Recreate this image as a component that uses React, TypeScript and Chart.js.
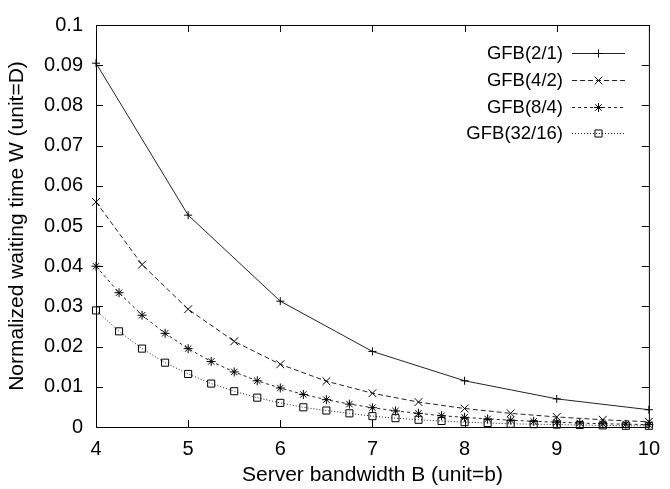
import React, { useEffect, useRef } from "react";
import { Chart, registerables } from "chart.js";

Chart.register(...registerables);

const seriesLabels = ["GFB(2/1)", "GFB(4/2)", "GFB(8/4)", "GFB(32/16)"];

const x21 = [4, 5, 6, 7, 8, 9, 10];
const y21 = [0.0905, 0.0527, 0.0313, 0.0188, 0.0115, 0.007, 0.0043];

const x42 = [4, 4.5, 5, 5.5, 6, 6.5, 7, 7.5, 8, 8.5, 9, 9.5, 10];
const y42 = [0.056, 0.0404, 0.0293, 0.0213, 0.0156, 0.0114, 0.0084, 0.0062, 0.0046, 0.0034, 0.0025, 0.0018, 0.0013];

const x84 = [4, 4.25, 4.5, 4.75, 5, 5.25, 5.5, 5.75, 6, 6.25, 6.5, 6.75, 7, 7.25, 7.5, 7.75, 8, 8.25, 8.5, 8.75, 9, 9.25, 9.5, 9.75, 10];
const y84 = [0.04, 0.0334, 0.0278, 0.0233, 0.0195, 0.0163, 0.0137, 0.0115, 0.0097, 0.0081, 0.0068, 0.0057, 0.0048, 0.004, 0.0034, 0.0028, 0.0024, 0.002, 0.0017, 0.0014, 0.0012, 0.001, 0.0008, 0.0007, 0.0006];

const x3216 = [4, 4.25, 4.5, 4.75, 5, 5.25, 5.5, 5.75, 6, 6.25, 6.5, 6.75, 7, 7.25, 7.5, 7.75, 8, 8.25, 8.5, 8.75, 9, 9.25, 9.5, 9.75, 10];
const y3216 = [0.029, 0.0238, 0.0195, 0.016, 0.0132, 0.0108, 0.0089, 0.0073, 0.006, 0.0049, 0.0041, 0.0034, 0.0027, 0.0022, 0.0018, 0.0015, 0.0012, 0.001, 0.0008, 0.0007, 0.0006, 0.0005, 0.0004, 0.0003, 0.0003];

const xTicks = [4, 5, 6, 7, 8, 9, 10];
const yTicks = [0, 0.01, 0.02, 0.03, 0.04, 0.05, 0.06, 0.07, 0.08, 0.09, 0.1];

const FONT = "'Liberation Sans', Arial, Helvetica, sans-serif";

const zip = (xs: number[], ys: number[]) => xs.map((x, i) => ({ x, y: ys[i] }));

function drawMarker(ctx: CanvasRenderingContext2D, style: string, r: number, x: number, y: number) {
  ctx.beginPath();
  if (style === "cross" || style === "star") {
    ctx.moveTo(x - r, y);
    ctx.lineTo(x + r, y);
    ctx.moveTo(x, y - r);
    ctx.lineTo(x, y + r);
  }
  if (style === "crossRot" || style === "star") {
    const o = r * Math.SQRT1_2;
    ctx.moveTo(x - o, y - o);
    ctx.lineTo(x + o, y + o);
    ctx.moveTo(x - o, y + o);
    ctx.lineTo(x + o, y - o);
  }
  if (style === "rect") {
    const s = r * Math.SQRT1_2;
    ctx.rect(x - s, y - s, 2 * s, 2 * s);
  }
  ctx.stroke();
}

const framePlugin = {
  id: "gnuFrame",
  afterDatasetsDraw(chart: any) {
    const { ctx, chartArea: a, scales } = chart;
    ctx.save();
    ctx.strokeStyle = "#000";
    ctx.lineWidth = 1;
    ctx.setLineDash([]);
    ctx.beginPath();
    ctx.rect(a.left + 0.5, a.top + 0.5, a.right - a.left, a.bottom - a.top);
    ctx.stroke();
    const t = 7;
    ctx.beginPath();
    for (const v of xTicks) {
      const px = Math.round(scales.x.getPixelForValue(v)) + 0.5;
      ctx.moveTo(px, a.bottom);
      ctx.lineTo(px, a.bottom - t);
      ctx.moveTo(px, a.top);
      ctx.lineTo(px, a.top + t);
    }
    for (const v of yTicks) {
      const py = Math.round(scales.y.getPixelForValue(v)) + 0.5;
      ctx.moveTo(a.left, py);
      ctx.lineTo(a.left + t, py);
      ctx.moveTo(a.right, py);
      ctx.lineTo(a.right - t, py);
    }
    ctx.stroke();

    // legend (gnuplot style: right-aligned text, sample line on the right)
    const textRight = 563;
    const lineL = 572;
    const lineR = 625;
    const rowY = [53, 80, 107, 133];
    ctx.font = "18.5px " + FONT;
    ctx.textAlign = "right";
    ctx.textBaseline = "middle";
    chart.data.datasets.forEach((ds: any, i: number) => {
      const y = rowY[i];
      ctx.fillStyle = "#000";
      ctx.fillText(ds.label, textRight, y + 1);
      ctx.strokeStyle = ds.borderColor;
      ctx.lineWidth = ds.borderWidth;
      ctx.setLineDash(ds.borderDash || []);
      ctx.beginPath();
      ctx.moveTo(lineL, y + 0.5);
      ctx.lineTo(lineR, y + 0.5);
      ctx.stroke();
      ctx.setLineDash([]);
      ctx.strokeStyle = ds.pointBorderColor;
      ctx.lineWidth = 1;
      drawMarker(ctx, ds.pointStyle, ds.pointRadius, (lineL + lineR) / 2, y + 0.5);
    });
    ctx.restore();
  },
};

export default function App() {
  const ref = useRef<HTMLCanvasElement | null>(null);
  useEffect(() => {
    document.body.style.margin = "0";
    document.body.style.background = "#fff";
    const canvas = ref.current!;
    const styles = [
      { dash: [], ps: "cross", r: 4 },
      { dash: [5, 3], ps: "crossRot", r: 5.5 },
      { dash: [3, 3], ps: "star", r: 4.5 },
      { dash: [1, 2], ps: "rect", r: 5 },
    ];
    const sets = [zip(x21, y21), zip(x42, y42), zip(x84, y84), zip(x3216, y3216)];
    const chart = new Chart(canvas, {
      type: "scatter",
      data: {
        datasets: sets.map((d, i) => ({
          label: seriesLabels[i],
          data: d,
          showLine: true,
          borderColor: "#222",
          borderWidth: 1,
          borderDash: styles[i].dash,
          pointStyle: styles[i].ps,
          pointRadius: styles[i].r,
          pointBorderColor: "#000",
          pointBackgroundColor: "rgba(0,0,0,0)",
          pointBorderWidth: 1,
          clip: false,
        })) as any,
      },
      options: {
        animation: false,
        responsive: false,
        devicePixelRatio: 1,
        layout: { padding: { top: 15, right: 13, left: 0, bottom: 0 } },
        plugins: { legend: { display: false }, tooltip: { enabled: false } },
        scales: {
          x: {
            type: "linear",
            min: 4,
            max: 10,
            afterFit: (s: any) => {
              s.height = 62;
            },
            afterBuildTicks: (s: any) => {
              s.ticks = xTicks.map((v) => ({ value: v }));
            },
            grid: { display: false, drawTicks: false },
            border: { display: false },
            ticks: {
              color: "#000",
              font: { family: FONT, size: 20 },
              padding: 10,
              maxRotation: 0,
              callback: (v: any) => String(v),
            },
            title: {
              display: true,
              text: "Server bandwidth B (unit=b)",
              color: "#000",
              font: { family: FONT, size: 21 },
              padding: { top: 0, bottom: 1 },
            },
          },
          y: {
            type: "linear",
            min: 0,
            max: 0.1,
            afterFit: (s: any) => {
              s.width = 96;
            },
            afterBuildTicks: (s: any) => {
              s.ticks = yTicks.map((v) => ({ value: v }));
            },
            grid: { display: false, drawTicks: false },
            border: { display: false },
            ticks: {
              color: "#000",
              font: { family: FONT, size: 20 },
              padding: 13,
              callback: (v: any) => String(parseFloat(Number(v).toFixed(2))),
            },
            title: {
              display: true,
              text: "Normalized waiting time W (unit=D)",
              color: "#000",
              font: { family: FONT, size: 21 },
              padding: { top: 5, bottom: 0 },
            },
          },
        },
      },
      plugins: [framePlugin],
    } as any);
    return () => chart.destroy();
  }, []);
  return <canvas ref={ref} width={670} height={489} style={{ display: "block", width: 670, height: 489 }} />;
}
